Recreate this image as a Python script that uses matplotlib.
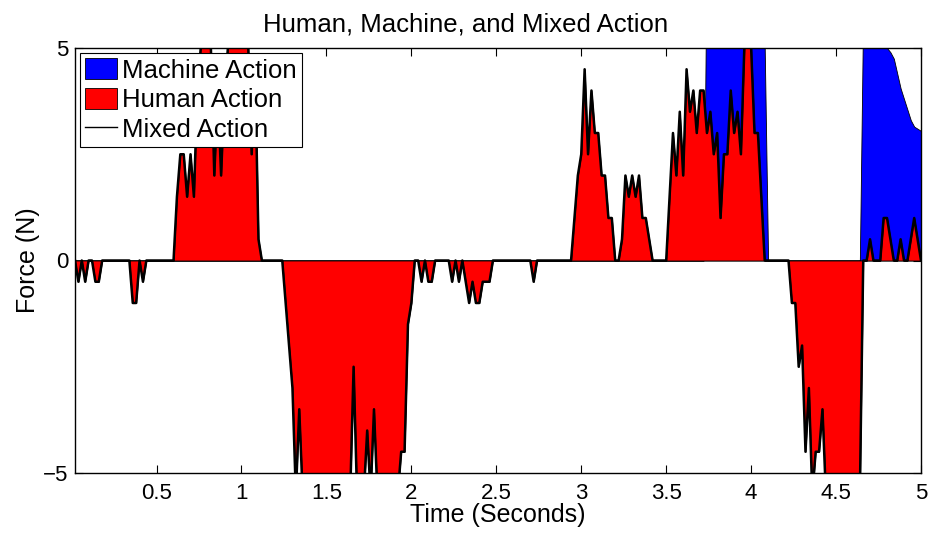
import matplotlib.pyplot as plt
import matplotlib.ticker as ticker
import numpy as np

plt.rcParams['font.family'] = ['Liberation Sans', 'DejaVu Sans']

# samples every 0.02 s, 0.02 .. 5.00
time_s = np.round(np.arange(1, 251) * 0.02, 2)

human_action = [
    0, -0.5, 0, -0.5, 0, 0, -0.5, -0.5, 0, 0,
    0, 0, 0, 0, 0, 0, 0, -1, -1, 0,
    -0.5, 0, 0, 0, 0, 0, 0, 0, 0, 0,
    1.5, 2.5, 2.5, 1.5, 2.5, 1.5, 4, 5, 5.5, 5.5,
    5, 2, 4, 2, 4, 5, 5.5, 5.5, 5.5, 5.5,
    5.5, 5, 2.5, 4.5, 0.5, 0, 0, 0, 0, 0,
    0, 0, -1, -2, -3, -5.5, -3.5, -5.5, -5.5, -5.5,
    -5.5, -5.5, -5.5, -5.5, -5.5, -5.5, -5.5, -5.5, -5.5, -5.5,
    -5.5, -5.5, -2.5, -5.5, -5.5, -5.5, -4, -5.5, -3.5, -5.5,
    -5.5, -5.5, -5.5, -5.5, -5.5, -5.5, -4.5, -4.5, -1.5, -1,
    0, 0, -0.5, 0, -0.5, -0.5, 0, 0, 0, 0,
    0, -0.5, 0, -0.5, 0, -0.5, -1, -0.5, -1, -1,
    -0.5, -0.5, -0.5, 0, 0, 0, 0, 0, 0, 0,
    0, 0, 0, 0, 0, -0.5, 0, 0, 0, 0,
    0, 0, 0, 0, 0, 0, 0, 1, 2, 2.5,
    4.5, 2.5, 4, 3, 3, 2, 2, 1, 1, 0,
    0, 0.5, 2, 1.5, 2, 1.5, 2, 1, 1, 0.5,
    0, 0, 0, 0, 0, 1.5, 3, 2, 3.5, 2,
    4.5, 3.5, 4, 3, 4, 4, 3, 3.5, 2.5, 3,
    1, 2.5, 2.5, 4, 3, 3.5, 2.5, 5, 5.5, 5,
    3, 3, 1.5, 0, 0, 0, 0, 0, 0, 0,
    0, -1, -1, -2.5, -2, -4.5, -3, -5.5, -4.5, -4.5,
    -3.5, -5.5, -5.5, -5.5, -5.5, -5.5, -5.5, -5.5, -5.5, -5.5,
    -5.5, -5.5, 0, 0, 0.5, 0, 0, 0, 1, 1,
    0.5, 0, 0, 0.5, 0, 0, 0.5, 1, 0.5, 0,
]

machine_action = [
    0, 0, 0, 0, 0, 0, 0, 0, 0, 0,
    0, 0, 0, 0, 0, 0, 0, 0, 0, 0,
    0, 0, 0, 0, 0, 0, 0, 0, 0, 0,
    0, 0, 0, 0, 0, 0, 0, 0, 0, 0,
    0, 0, 0, 0, 0, 0, 0, 0, 0, 0,
    0, 0, 0, 0, 0, 0, 0, 0, 0, 0,
    0, 0, 0, 0, 0, 0, 0, 0, 0, 0,
    0, 0, 0, 0, 0, 0, 0, 0, 0, 0,
    0, 0, 0, 0, 0, 0, 0, 0, 0, 0,
    0, 0, 0, 0, 0, 0, 0, 0, 0, 0,
    0, 0, 0, 0, 0, 0, 0, 0, 0, 0,
    0, 0, 0, 0, 0, 0, 0, 0, 0, 0,
    0, 0, 0, 0, 0, 0, 0, 0, 0, 0,
    0, 0, 0, 0, 0, 0, 0, 0, 0, 0,
    0, 0, 0, 0, 0, 0, 0, 0, 0, 0,
    0, 0, 0, 0, 0, 0, 0, 0, 0, 0,
    0, 0, 0, 0, 0, 0, 0, 0, 0, 0,
    0, 0, 0, 0, 0, 0, 0, 0, 0, 0,
    0, 0, 0, 0, 0, 0, 8, 8, 8, 8,
    8, 8, 8, 8, 8, 8, 8, 8, 8, 8,
    8, 8, 8, 5, 0, 0, 0, 0, 0, 0,
    0, 0, 0, 0, 0, 0, 0, 0, 0, 0,
    0, 0, 0, 0, 0, 0, 0, 0, 0, 0,
    0, 0, 6, 6, 6, 6, 6, 6, 5.3, 5.0,
    4.9, 4.75, 4.4, 4.05, 3.8, 3.55, 3.3, 3.15, 3.1, 3.05,
]

# mixed action trace follows the human command
mixed_action = list(human_action)

x_ticks = [0.5, 1, 1.5, 2, 2.5, 3, 3.5, 4, 4.5, 5]
x_tick_labels = ['0.5', '1', '1.5', '2', '2.5', '3', '3.5', '4', '4.5', '5']
y_ticks = [-5, 0, 5]
y_tick_labels = ['\u22125', '0', '5']

fig = plt.figure(figsize=(9.32, 5.33), dpi=100)
ax = fig.add_axes([75 / 932, 60 / 533, 846 / 932, 425 / 533])

h_machine = ax.fill_between(time_s, 0, machine_action, facecolor='#0000ff',
                            edgecolor='black', linewidth=0.6, zorder=1)
h_human = ax.fill_between(time_s, 0, human_action, facecolor='#ff0000',
                          edgecolor='black', linewidth=0.6, zorder=2)
h_mixed, = ax.plot(time_s, mixed_action, color='black', linewidth=1.8, zorder=3)

ax.set_xlim(0.02, 5)
ax.set_ylim(-5, 5)

ax.xaxis.set_major_locator(ticker.FixedLocator(x_ticks))
ax.xaxis.set_major_formatter(ticker.FixedFormatter(x_tick_labels))
ax.yaxis.set_major_locator(ticker.FixedLocator(y_ticks))
ax.yaxis.set_major_formatter(ticker.FixedFormatter(y_tick_labels))
ax.tick_params(direction='in', length=6, width=0.8, top=True, right=True,
               labelsize=16, pad=5)
ax.tick_params(axis='x', pad=7)
for sp in ax.spines.values():
    sp.set_linewidth(1.0)

ax.set_title('Human, Machine, and Mixed Action', fontsize=18.5, pad=12, x=0.462)
ax.set_xlabel('Time (Seconds)', fontsize=18)
ax.xaxis.set_label_coords(0.5, -0.07)
ax.set_ylabel('Force (N)', fontsize=18, labelpad=2)

leg = ax.legend([h_machine, h_human, h_mixed],
                ['Machine Action', 'Human Action', 'Mixed Action'],
                loc='upper left', bbox_to_anchor=(5 / 846, 1 - 5 / 425),
                borderaxespad=0, fontsize=18.5, fancybox=False, framealpha=1,
                edgecolor='black', handlelength=1.25, handleheight=0.9,
                handletextpad=0.2, labelspacing=0.2, borderpad=0.2)
leg.get_frame().set_linewidth(0.8)
leg.get_lines()[0].set_linewidth(1.0)

fig.savefig('out.png', dpi=100)
